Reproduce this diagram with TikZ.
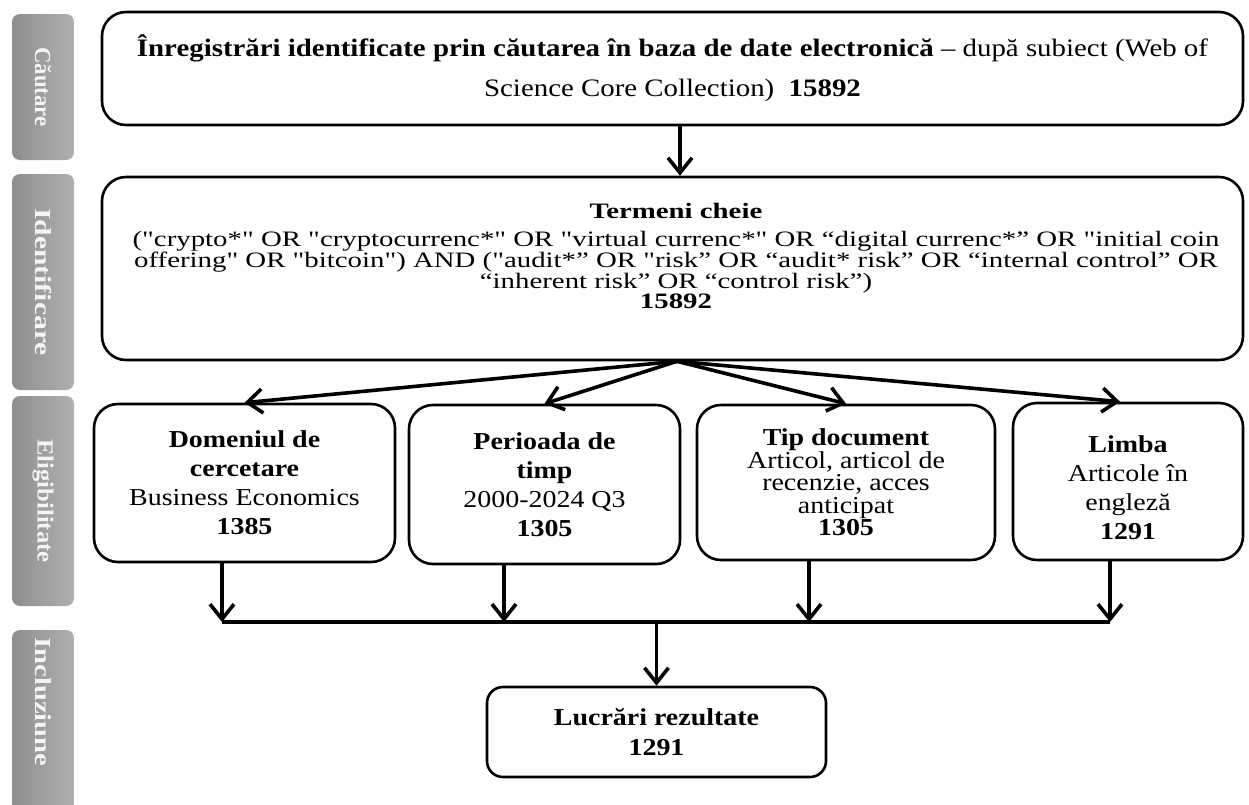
\documentclass[tikz,border=0pt]{standalone}
\usepackage{fontspec}
\setmainfont{Liberation Serif}[FakeStretch=1.15, Ligatures=TeXOff]
\newfontfamily\termfont{Liberation Serif}[FakeStretch=1.31, Ligatures=TeXOff]
\usetikzlibrary{arrows.meta,shadings}

\definecolor{labdark}{HTML}{8E8E8E}
\definecolor{lablight}{HTML}{B0B0B0}
\definecolor{labtext}{HTML}{F4F4F4}

\tikzset{
  flowbox/.style={draw=black, line width=2.6pt, rounded corners=24pt, inner sep=0pt, align=center},
  smallbox/.style={flowbox, rounded corners=16pt},
  stagebox/.style={left color=labdark, right color=lablight, rounded corners=8pt,
    minimum width=62pt, inner sep=0pt},
  stagetext/.style={inner sep=0pt, text=labtext, font=\fontsize{23}{25}\selectfont\bfseries},
  arr/.style={line width=3.6pt, -{Straight Barb[length=15pt,width=24pt]}},
  bus/.style={line width=3.6pt},
  boxfont/.style={font=\fontsize{24.3}{29}\selectfont},
}

\begin{document}
\begin{tikzpicture}[x=1pt,y=-1pt]
  \useasboundingbox (0,0) rectangle (1249,804);
  \clip (0,0) rectangle (1249,804);
  \fill[white] (0,0) rectangle (1249,804);

  % stage labels on the left
  \node[stagebox, minimum height=146pt] (s1) at (43,87) {};
  \node[stagebox, minimum height=216pt] (s2) at (43,282) {};
  \node[stagebox, minimum height=210pt] (s3) at (43,501) {};
  \node[stagebox, minimum height=240pt] (s4) at (43,750) {};
  \node[stagetext] (t1) at (s1.center) {\rotatebox{-90}{\scalebox{0.86}[1]{Căutare}}};
  \node[stagetext] (t2) at (s2.center) {\rotatebox{-90}{\scalebox{1.12}[1]{Identificare}}};
  \node[stagetext] (t3) at (s3.center) {\rotatebox{-90}{\scalebox{0.93}[1]{Eligibilitate}}};
  \node[stagetext] (t4) at (43,702) {\rotatebox{-90}{\scalebox{1.08}[1]{Incluziune}}};

  % search and identification
  \node[flowbox, minimum width=1141pt, minimum height=113pt,
        font=\fontsize{25.1}{40}\selectfont] (top) at (672.5,68.5)
    {\textbf{Înregistrări identificate prin căutarea în baza de date electronică} – după subiect (Web of\\
     Science Core Collection)\ \ \textbf{15892}};

  \node[flowbox, minimum width=1141pt, minimum height=183pt] (term) at (672.5,268.5) {};
  \node[inner sep=0pt, font=\termfont\fontsize{22}{20}\selectfont\bfseries]
    (termhead) at (676,211) {Termeni cheie};
  \node[align=center, inner sep=0pt, font=\termfont\fontsize{22}{20}\selectfont,
        anchor=north] (termtxt) at (676,231)
    {("crypto*" OR "cryptocurrenc*" OR "virtual currenc*" OR “digital currenc*” OR "initial coin\\
     offering" OR "bitcoin") AND ("audit*” OR "risk” OR “audit* risk” OR “internal control” OR\\
     “inherent risk” OR “control risk”)\\
     \textbf{15892}};

  % eligibility filters
  \node[flowbox, boxfont, minimum width=301pt, minimum height=158pt] (b1) at (244.5,483)
    {\textbf{Domeniul de}\\ \textbf{cercetare}\\ Business Economics\\ \textbf{1385}};
  \node[flowbox, boxfont, minimum width=271pt, minimum height=159pt] (b2) at (544.5,484.5)
    {\textbf{Perioada de}\\ \textbf{timp}\\ 2000-2024 Q3\\ \textbf{1305}};
  \node[flowbox, font=\fontsize{24.3}{22.5}\selectfont, minimum width=298pt, minimum height=155pt] (b3) at (846,482.5)
    {\textbf{Tip document}\\ Articol, articol de\\ recenzie, acces\\ anticipat\\ \textbf{1305}};
  \node[flowbox, minimum width=230pt, minimum height=157pt] (b4) at (1128,481.5) {};
  \node[align=center, inner sep=0pt, boxfont] (b4txt) at ([yshift=-6pt]b4.center)
    {\textbf{Limba}\\ Articole în\\ engleză\\ \textbf{1291}};

  % inclusion
  \node[smallbox, font=\fontsize{24.3}{30}\selectfont\bfseries, minimum width=339pt, minimum height=90pt] (res) at (656.5,732)
    {Lucrări rezultate\\ 1291};

  % connectors
  \draw[arr] ([xshift=7.5pt]top.south) -- ([xshift=7.5pt]term.north);

  \coordinate (fan) at ([xshift=4.5pt]term.south);
  \draw[arr] (fan) -- (b1.north);
  \draw[arr] (fan) -- (b2.north);
  \draw[arr] (fan) -- (b3.north);
  \draw[arr] (fan) -- ([xshift=-8pt]b4.north);

  \coordinate (j1) at (222,622);
  \coordinate (j2) at (504,622);
  \coordinate (j3) at (809,622);
  \coordinate (j4) at (1110,622);
  \draw[arr] (b1.south -| j1) -- (j1);
  \draw[arr] (b2.south -| j2) -- (j2);
  \draw[arr] (b3.south -| j3) -- (j3);
  \draw[arr] (b4.south -| j4) -- (j4);
  \draw[bus] (j1) -- (j4);
  \draw[arr] (res.north |- j1) -- (res.north);
\end{tikzpicture}
\end{document}
